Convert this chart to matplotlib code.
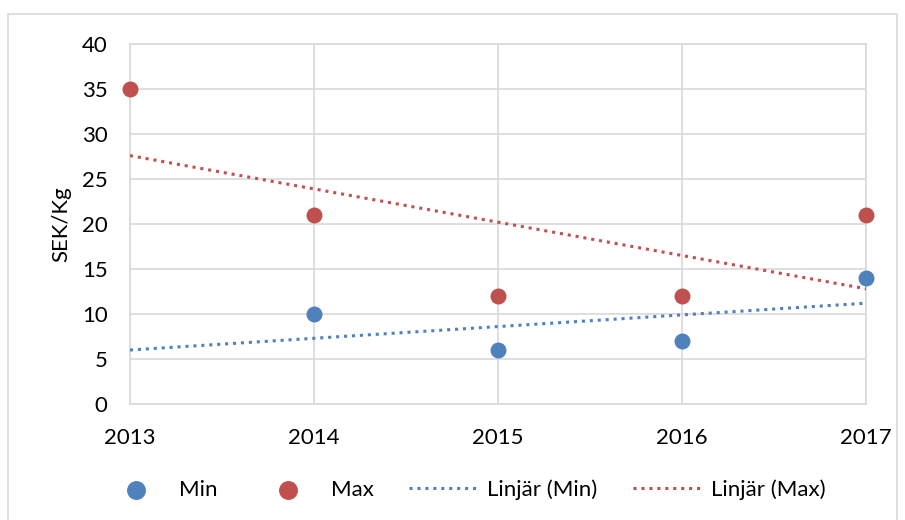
import matplotlib.pyplot as plt
import numpy as np
from matplotlib.patches import Rectangle

# Data
min_years = [2014, 2015, 2016, 2017]
min_values = [10, 6, 7, 14]
max_years = [2013, 2014, 2015, 2016, 2017]
max_values = [35, 21, 12, 12, 21]
year_ticks = [2013, 2014, 2015, 2016, 2017]

blue = '#4F81BD'
red = '#C0504D'

plt.rcParams['font.family'] = ['Lato', 'DejaVu Sans']

fig = plt.figure(figsize=(9.05, 5.2), dpi=100)
ax = fig.add_axes([0.1436, 0.2231, 0.8134, 0.6923])

# Outer chart border
fig.patches.append(Rectangle((8 / 905, -0.05), 889 / 905, 1 - 14 / 520 + 0.05,
                             transform=fig.transFigure, fill=False,
                             edgecolor='#d9d9d9', linewidth=1.2))

ax.scatter(min_years, min_values, s=110, color=blue, zorder=4, label='Min',
           clip_on=False)
ax.scatter(max_years, max_values, s=110, color=red, zorder=4, label='Max',
           clip_on=False)

# Linear trendlines over the full year range
xs = np.array([year_ticks[0], year_ticks[-1]])
p_min = np.polyfit(min_years, min_values, 1)
p_max = np.polyfit(max_years, max_values, 1)
ax.plot(xs, np.polyval(p_min, xs), linestyle=(0, (1, 1.6)), linewidth=2.2,
        color=blue, zorder=3, label='Linjär (Min)')
ax.plot(xs, np.polyval(p_max, xs), linestyle=(0, (1, 1.6)), linewidth=2.2,
        color=red, zorder=3, label='Linjär (Max)')

ax.set_xlim(2013, 2017)
ax.set_ylim(0, 40)
ax.set_xticks(year_ticks)
ax.set_yticks(range(0, 41, 5))
ax.grid(True, color='#d9d9d9', linewidth=1.2)
ax.set_axisbelow(True)
for side in ['top', 'right', 'left', 'bottom']:
    ax.spines[side].set_color('#d9d9d9')
    ax.spines[side].set_linewidth(1.2)
ax.tick_params(length=0, labelsize=16)
ax.tick_params(axis='y', pad=16)
ax.tick_params(axis='x', pad=17)
ax.set_ylabel('SEK/Kg', fontsize=16, labelpad=8)

fig.legend(loc='center', bbox_to_anchor=(0.512, 0.058), ncol=4, frameon=False,
           fontsize=16, columnspacing=1.6, handlelength=3.1, handletextpad=0.4,
           scatterpoints=1, markerscale=1.2)

fig.savefig('out.png', dpi=100)
